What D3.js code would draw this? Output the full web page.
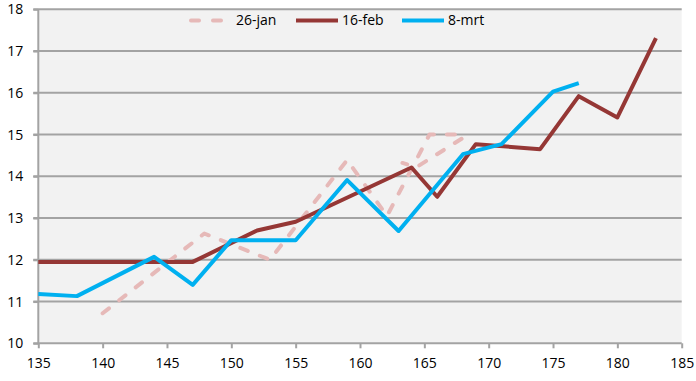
<!DOCTYPE html>
<html>
<head>
<meta charset="utf-8">
<script src="https://cdn.jsdelivr.net/npm/d3@7"></script>
<style>
html,body{margin:0;padding:0;background:#fff;}
svg{display:block;}
text{font-family:"Open Sans",sans-serif;font-size:14px;fill:#000;}
</style>
</head>
<body>
<svg id="chart" width="696" height="381"></svg>
<script>
// Data
const seriesNames = ["26-jan", "16-feb", "8-mrt"];
const jan26 = [[140,10.72],[147.9,12.63],[153,12.0],[159,14.39],[162.1,13.05],[165.4,15.0],[168,15.0],[168,14.92],[164.4,14.22],[163.3,14.32]];
const feb16 = [[135,11.95],[147,11.95],[152,12.7],[155,12.91],[164,14.21],[166,13.51],[169,14.77],[174,14.65],[177,15.92],[180,15.41],[183,17.31]];
const mrt8 = [[135,11.18],[138,11.13],[144,12.07],[147,11.4],[150,12.47],[155,12.47],[159,13.91],[163,12.69],[168,14.53],[171,14.77],[175,16.03],[177,16.23]];
const xTicks = [135,140,145,150,155,160,165,170,175,180,185];
const yTicks = [10,11,12,13,14,15,16,17,18];

const colors = {"26-jan":"#e6b9b8","16-feb":"#953735","8-mrt":"#00b0f0"};
const seriesData = {"26-jan":jan26,"16-feb":feb16,"8-mrt":mrt8};

const svg = d3.select("#chart");
const L = 38.3, R = 681.7, T = 9.3, B = 343.3;
const x = d3.scaleLinear().domain([135,185]).range([L,R]);
const y = d3.scaleLinear().domain([10,18]).range([B,T]);

// plot background
svg.append("rect").attr("x",L).attr("y",T).attr("width",R-L).attr("height",B-T).attr("fill","#f2f2f2");

// gridlines
svg.append("g").selectAll("line").data(yTicks.filter(d=>d>10)).join("line")
  .attr("x1",L-5).attr("x2",R).attr("y1",d=>y(d)).attr("y2",d=>y(d))
  .attr("stroke","#a3a3a3").attr("stroke-width",2);

// y axis
const yAxis = svg.append("g").attr("transform",`translate(${L},0)`)
  .call(d3.axisLeft(y).tickValues(yTicks).tickSize(5).tickPadding(10).tickFormat(d3.format("d")));
yAxis.select(".domain").attr("stroke","#a3a3a3").attr("stroke-width",2).attr("d",`M-5,${B}H0V${T}`);
yAxis.selectAll(".tick line").attr("stroke","#a3a3a3").attr("stroke-width",2);
yAxis.selectAll("text").style("font-family","'Open Sans',sans-serif").style("font-size","14px").attr("fill","#000");

// x axis
const xAxis = svg.append("g").attr("transform",`translate(0,${B})`)
  .call(d3.axisBottom(x).tickValues(xTicks).tickSize(5).tickPadding(10).tickFormat(d3.format("d")));
xAxis.select(".domain").attr("stroke","#a3a3a3").attr("stroke-width",2).attr("d",`M${L},0H${R}`);
xAxis.selectAll(".tick line").attr("stroke","#a3a3a3").attr("stroke-width",2);
xAxis.selectAll("text").style("font-family","'Open Sans',sans-serif").style("font-size","14px").attr("fill","#000");

// lines
const line = d3.line().x(d=>x(d[0])).y(d=>y(d[1]));
seriesNames.forEach(name=>{
  const p = svg.append("path").datum(seriesData[name]).attr("d",line)
    .attr("fill","none").attr("stroke",colors[name]).attr("stroke-width",4)
    .attr("stroke-linejoin","round");
  if(name==="26-jan"){ p.attr("stroke-dasharray","8,13").attr("stroke-linecap","round"); }
});

// legend
const legendX = [189,296,402];
const lg = svg.append("g");
seriesNames.forEach((name,i)=>{
  const g = lg.append("g").attr("transform",`translate(${legendX[i]},20.5)`);
  const ln = g.append("line").attr("x1",0).attr("x2",name==="26-jan"?34:42).attr("y1",0).attr("y2",0)
    .attr("stroke",colors[name]).attr("stroke-width",4);
  if(name==="26-jan"){ ln.attr("x1",2).attr("x2",32).attr("stroke-dasharray","8,14").attr("stroke-linecap","round"); }
  g.append("text").attr("x",name==="26-jan"?47:46).attr("y",0).attr("dy","0.35em").text(name);
});
</script>
</body>
</html>
